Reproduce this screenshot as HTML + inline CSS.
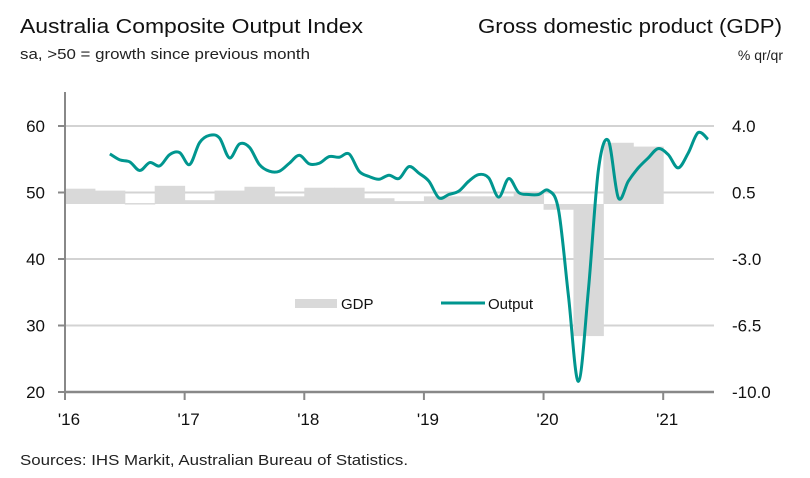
<!DOCTYPE html>
<html><head><meta charset="utf-8">
<style>
html,body{margin:0;padding:0;background:#fff;}
svg{display:block;font-family:"Liberation Sans",sans-serif;}
</style></head>
<body>
<svg id="chart" width="810" height="478" viewBox="0 0 810 478">
  <text x="20" y="33" font-size="20" fill="#111" textLength="343" lengthAdjust="spacingAndGlyphs">Australia Composite Output Index</text>
  <text x="20" y="59" font-size="15" fill="#222" textLength="290" lengthAdjust="spacingAndGlyphs">sa, &gt;50 = growth since previous month</text>
  <text x="782" y="33" font-size="20" fill="#111" text-anchor="end" textLength="304" lengthAdjust="spacingAndGlyphs">Gross domestic product (GDP)</text>
  <text x="783" y="60" font-size="14" fill="#222" text-anchor="end">% qr/qr</text>
  <text x="20" y="465" font-size="15" fill="#222" textLength="388" lengthAdjust="spacingAndGlyphs">Sources: IHS Markit, Australian Bureau of Statistics.</text>
  <g id="grid"></g>
  <g id="bars"></g>
  <g id="axes"></g>
  <path id="line" fill="none" stroke="#00968f" stroke-width="3" stroke-linejoin="round"></path>
  <g>
    <rect x="295" y="299" width="42" height="9" fill="#d9d9d9"></rect>
    <text x="341" y="309" font-size="15" fill="#111">GDP</text>
    <line x1="441" y1="303" x2="485" y2="303" stroke="#00968f" stroke-width="3"></line>
    <text x="488" y="309" font-size="15" fill="#111">Output</text>
  </g>
</svg>
<script>
const leftTicks = [20, 30, 40, 50, 60];
const rightTickLabels = ["-10.0", "-6.5", "-3.0", "0.5", "4.0"];
const yearLabels = ["'16", "'17", "'18", "'19", "'20", "'21"];
// GDP quarterly % q/q, Q1 2016 .. Q4 2020
const gdpValues = [0.8, 0.7, 0.05, 0.95, 0.2, 0.7, 0.9, 0.4, 0.85, 0.85, 0.3, 0.15, 0.4, 0.4, 0.4, 0.55, -0.3, -6.9, 3.2, 3.0];
// Output index monthly, May 2016 .. May 2021
const outputValues = [55.8,54.9,54.6,53.3,54.5,54.0,55.7,56.0,54.2,57.5,58.6,58.2,55.2,57.3,56.8,54.2,53.2,53.2,54.4,55.6,54.3,54.4,55.4,55.3,55.8,53.2,52.4,52.0,52.6,52.1,53.9,52.9,51.7,49.2,49.7,50.2,51.7,52.7,52.2,49.3,52.1,50.0,49.7,49.7,50.3,47.4,34.4,21.6,35.4,53.4,57.8,49.2,51.7,53.7,55.2,56.6,55.7,53.7,55.9,59.0,58.0];
const outputStartMonth = 4; // months after Jan 2016

const NS = "http://www.w3.org/2000/svg";
const X0 = 65, MONTH = 9.97, XEND = 714;
function xM(m){ return X0 + m*MONTH; }
function yL(v){ return 392 - (v-20)*6.65; }
function yR(v){ return 204 - v*19.14; }
function mk(tag, attrs, parent){ const e=document.createElementNS(NS,tag); for(const k in attrs) e.setAttribute(k, attrs[k]); parent.appendChild(e); return e; }

const grid = document.getElementById('grid');
const axes = document.getElementById('axes');
leftTicks.forEach((t,i)=>{
  const y = yL(t);
  if (i>0){
    const g = mk('line',{x1:X0,x2:XEND,y1:y,y2:y,stroke:'#d3d3d3','stroke-width':2},grid);
    
    
  }
  const tk = mk('line',{x1:58,x2:X0,y1:y,y2:y,stroke:'#888','stroke-width':2},axes);
  
  
  const lt = mk('text',{x:45,y:y+6,'font-size':17,fill:'#111','text-anchor':'end'},axes);
  lt.textContent = t;
  
  
  const rt = mk('text',{x:732,y:y+6,'font-size':17,fill:'#111'},axes);
  rt.textContent = rightTickLabels[i];
  
  
});

const bars = document.getElementById('bars');
gdpValues.forEach((v,i)=>{
  const x = xM(i*3), w = MONTH*3;
  const y1 = Math.min(yR(v), yR(0)), y2 = Math.max(yR(v), yR(0));
  const r = mk('rect',{x:x,y:y1,width:w+0.5,height:Math.max(1.5,y2-y1),fill:'#d9d9d9'},bars);
  
  
});

const la = mk('line',{x1:X0,x2:X0,y1:92,y2:393,stroke:'#888','stroke-width':2},axes);


const xa = mk('line',{x1:X0,x2:XEND,y1:392,y2:392,stroke:'#888','stroke-width':2.5},axes);


yearLabels.forEach((l,i)=>{
  const x = xM(i*12);
  const tk = mk('line',{x1:x,x2:x,y1:392,y2:400,stroke:'#888','stroke-width':2},axes);
  
  
  const t = mk('text',{x:x+4,y:425,'font-size':17,fill:'#111','text-anchor':'middle'},axes);
  t.textContent = l;
  
  
});

const pts = outputValues.map((v,i)=>[xM(outputStartMonth+i+0.5), yL(v)]);
let d = `M${pts[0][0]},${pts[0][1]}`;
for(let i=0;i<pts.length-1;i++){
  const p0=pts[Math.max(0,i-1)], p1=pts[i], p2=pts[i+1], p3=pts[Math.min(pts.length-1,i+2)];
  const c1=[p1[0]+(p2[0]-p0[0])/6, p1[1]+(p2[1]-p0[1])/6];
  const c2=[p2[0]-(p3[0]-p1[0])/6, p2[1]-(p3[1]-p1[1])/6];
  d += ` C${c1[0]},${c1[1]} ${c2[0]},${c2[1]} ${p2[0]},${p2[1]}`;
}
document.getElementById('line').setAttribute('d', d);
</script>
</body></html>
